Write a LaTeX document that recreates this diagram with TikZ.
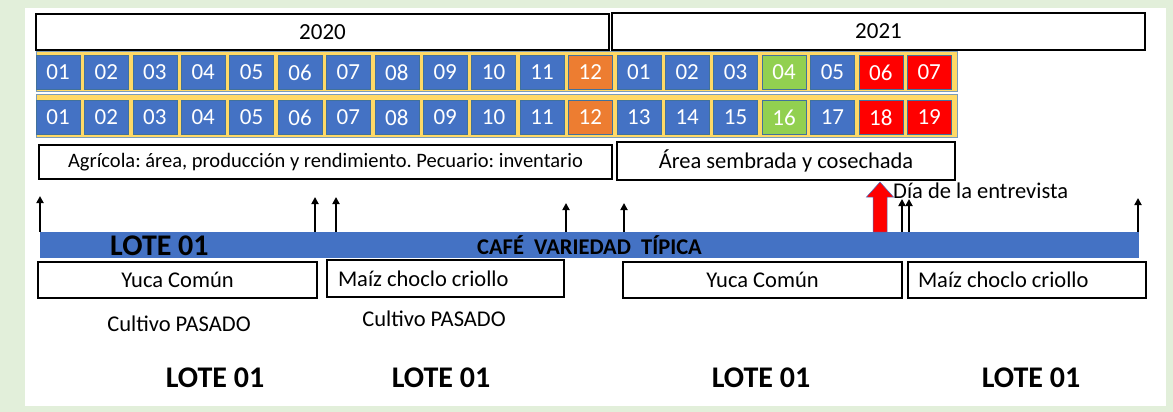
\documentclass[tikz,border=0pt]{standalone}
\usepackage{fontspec}
\setmainfont{Carlito}
\frenchspacing
\usetikzlibrary{arrows.meta}
\definecolor{pagegreen}{HTML}{E2EFDA}
\definecolor{mblue}{HTML}{4472C4}
\definecolor{morange}{HTML}{ED7D31}
\definecolor{mgreen}{HTML}{92D050}
\definecolor{mred}{HTML}{FF0000}
\definecolor{myellow}{HTML}{FFD966}
\definecolor{cellline}{HTML}{41719C}
\tikzset{
    yearbox/.style={draw, line width=1.6pt, inner sep=0pt, font=\fontsize{23}{26}\selectfont},
    monthcell/.style={fill=#1, draw=cellline, line width=0.6pt, minimum width=44pt, minimum height=34pt, inner sep=0pt, text=white, font=\fontsize{23}{26}\selectfont},
    infobox/.style={draw, line width=1.4pt, inner sep=0pt},
    cropbox/.style={draw, line width=1.4pt, inner sep=0pt, minimum height=36pt, font=\fontsize{22.5}{26}\selectfont},
    timearrow/.style={-{Triangle[length=7pt,width=7pt]}, line width=1.8pt},
    lotelabel/.style={inner sep=0pt, font=\bfseries\fontsize{30}{34}\selectfont},
}

\begin{document}
\begin{tikzpicture}[x=1pt,y=-1pt]
\useasboundingbox (0,0) rectangle (1173,412);
\fill[pagegreen] (0,0) rectangle (1173,412);
\fill[white] (25,8) rectangle (1166,406);
% years
\node[yearbox, minimum width=573pt, minimum height=36pt] (y2020) at (322.5,32) {2020};
\node[yearbox, minimum width=533pt, minimum height=37pt] (y2021) at (878.5,31.5) {2021};
% month strips
\draw[fill=myellow, draw=cellline!70, line width=0.8pt] (36,51) rectangle (957,91);
\draw[fill=myellow, draw=cellline!70, line width=0.8pt] (36,94) rectangle (957,137);
\foreach \a/\b/\c [count=\k from 0] in {01/01/mblue,02/02/mblue,03/03/mblue,04/04/mblue,05/05/mblue,06/06/mblue,07/07/mblue,08/08/mblue,09/09/mblue,10/10/mblue,11/11/mblue,12/12/morange,01/13/mblue,02/14/mblue,03/15/mblue,04/16/mgreen,05/17/mblue,06/18/mred,07/19/mred}
{
    \node[monthcell=\c] (ma\k) at (58+48.4*\k,72.5) {\a};
    \node[monthcell=\c] (mb\k) at (58+48.4*\k,117.5) {\b};
}
% what is asked
\node[infobox, minimum width=573pt, minimum height=34pt, font=\fontsize{20.5}{24}\selectfont] (agri) at (325.5,162) {Agrícola: área, producción y rendimiento. Pecuario: inventario};
\node[infobox, minimum width=338pt, minimum height=38pt, font=\fontsize{22.5}{26}\selectfont] (area) at (786,161) {Área sembrada y cosechada};
% lot bar
\node[fill=mblue, minimum width=1099pt, minimum height=26pt, inner sep=0pt, font=\bfseries\fontsize{22.5}{26}\selectfont] (bar) at (589.5,245) {CAFÉ\ \ VARIEDAD\ \ TÍPICA};
\node[lotelabel, anchor=base west] (lotebar) at (110,255) {LOTE 01};
\foreach \x/\t [count=\k] in {40/196,315/197,336/197,566/203,624/203,902/199,909/199,1138/198}
{
    \coordinate (tip\k) at (\x,\t);
    \draw[timearrow] (tip\k |- bar.north) -- (tip\k);
}
\coordinate (dia) at (880,182);
\draw[fill=mred, draw=mblue, line width=0.5pt] (dia) -- ++(13.5,15) -- ++(-6.5,0) -- ++(0,35) -- ++(-14,0) -- ++(0,-35) -- ++(-6.5,0) -- cycle;
\node[anchor=base west, inner sep=0pt, font=\fontsize{22.5}{26}\selectfont] (diatext) at (893,198) {Día de la entrevista};
% crops
\node[cropbox, minimum width=279pt] (yuca1) at (177.5,280) {Yuca Común};
\node[cropbox, minimum width=237pt, minimum height=37pt] (maiz1) at (445.5,278.5) {\makebox[215pt][l]{Maíz choclo criollo}};
\node[cropbox, minimum width=279pt] (yuca2) at (762.5,280) {Yuca Común};
\node[cropbox, minimum width=238pt] (maiz2) at (1027,280) {\makebox[218pt][l]{Maíz choclo criollo}};
\node[anchor=base, inner sep=0pt, font=\fontsize{22.5}{26}\selectfont] (pasado1) at (179,331) {Cultivo PASADO};
\node[anchor=base, inner sep=0pt, font=\fontsize{22.5}{26}\selectfont] (pasado2) at (434,326) {Cultivo PASADO};
\node[lotelabel, anchor=base] (lote1) at (215,387) {LOTE 01};
\node[lotelabel, anchor=base] (lote2) at (441,387) {LOTE 01};
\node[lotelabel, anchor=base] (lote3) at (761,387) {LOTE 01};
\node[lotelabel, anchor=base] (lote4) at (1031,387) {LOTE 01};
\end{tikzpicture}
\end{document}
